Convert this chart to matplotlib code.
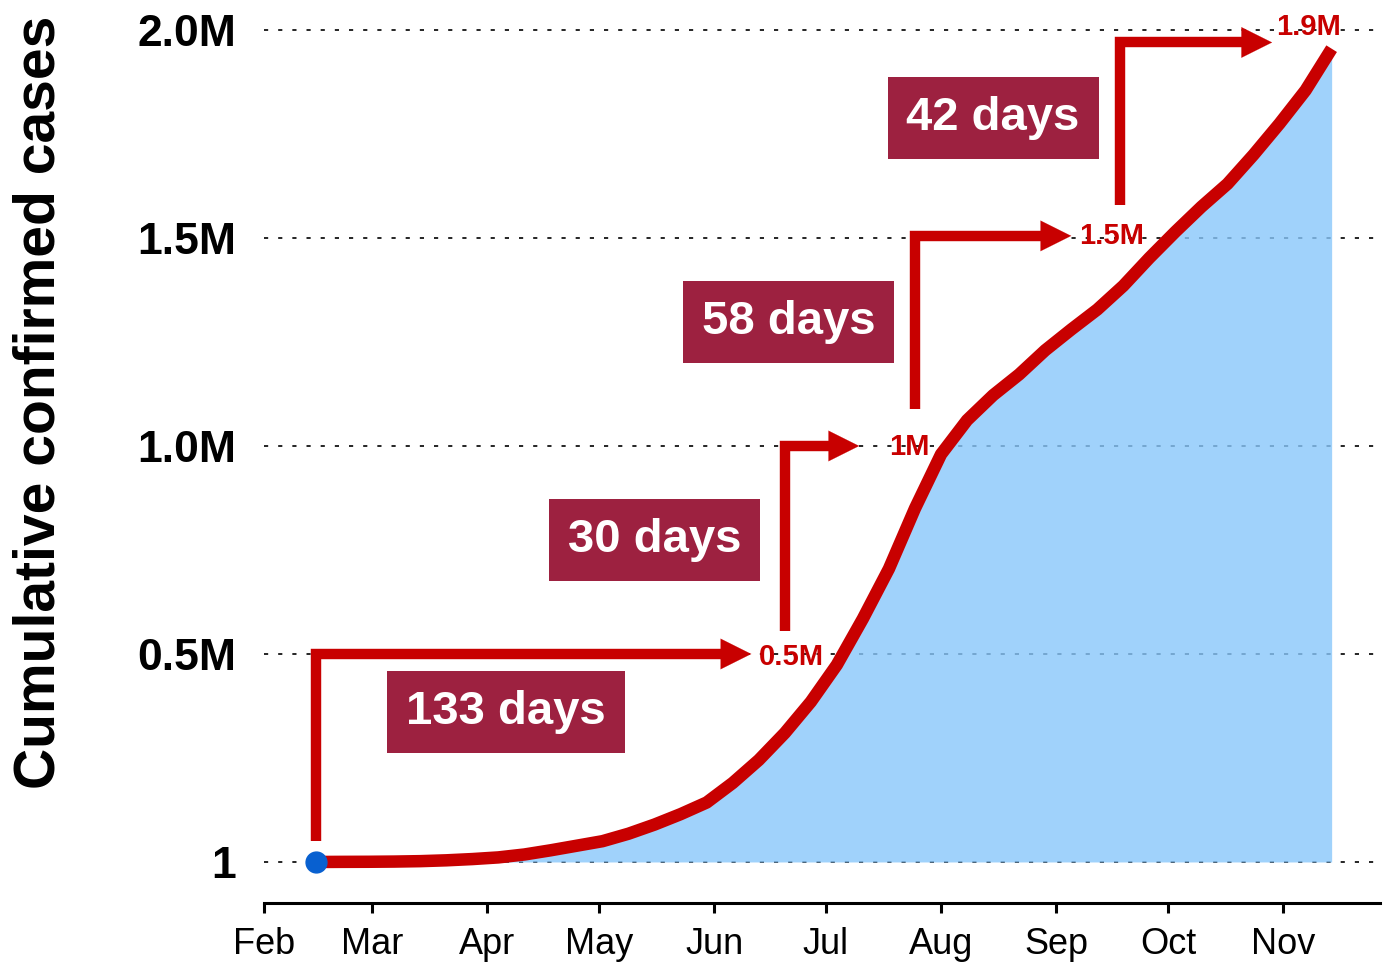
import numpy as np
import matplotlib
matplotlib.use("Agg")
import matplotlib.pyplot as plt
import matplotlib.dates as mdates

# weekly readings of the cumulative curve, from Feb 15 2020
start_date = np.datetime64("2020-02-15")
cases_m = [0.0, 0.0003, 0.0005, 0.001, 0.002, 0.004, 0.007, 0.011, 0.018, 0.028,
           0.039, 0.050, 0.068, 0.090, 0.115, 0.143, 0.190, 0.245, 0.310, 0.385,
           0.474, 0.585, 0.705, 0.850, 0.980, 1.062, 1.122, 1.172, 1.230, 1.280,
           1.328, 1.385, 1.452, 1.515, 1.575, 1.630, 1.700, 1.775, 1.855, 1.955]
dates = start_date + np.arange(len(cases_m)) * 7
cases = np.array(cases_m) * 1e6

ytick_values = [0, 0.5e6, 1.0e6, 1.5e6, 2.0e6]
ytick_labels = ["1", "0.5M", "1.0M", "1.5M", "2.0M"]

# milestone arrows: vertical start date, bottom level, top level, arrow tip date
arrow_x = ["2020-02-15", "2020-06-20", "2020-07-25", "2020-09-18"]
arrow_y0 = [0.05e6, 0.555e6, 1.09e6, 1.58e6]
arrow_y1 = [0.5e6, 1.0e6, 1.505e6, 1.97e6]
arrow_tip = ["2020-06-11", "2020-07-10", "2020-09-05", "2020-10-29"]
milestone_labels = ["0.5M", "1M", "1.5M", "1.9M"]
milestone_label_x = ["2020-06-13", "2020-07-18", "2020-09-07", "2020-10-30"]
milestone_label_y = [0.493e6, 0.998e6, 1.505e6, 2.007e6]

# day-count boxes
gap_labels = ["133 days", "30 days", "58 days", "42 days"]
gap_x = ["2020-04-06", "2020-05-16", "2020-06-21", "2020-08-15"]
gap_y = [0.361e6, 0.774e6, 1.298e6, 1.788e6]

red = "#c80000"
box_red = "#9d2140"

fig = plt.figure(figsize=(13.85, 9.63), dpi=100)
ax = fig.add_axes([264 / 1385, 60 / 963, (1380 - 264) / 1385, (903 - 10) / 963])

ax.set_xlim(np.datetime64("2020-02-01"), np.datetime64("2020-11-27"))
ax.set_ylim(-0.0986e6, 2.048e6)

for v in ytick_values:
    ax.axhline(v, color="black", lw=1.2, ls=(0, (2.5, 6)), zorder=1)

ax.fill_between(dates, 0, cases, color="#89c7fb", alpha=0.8, lw=0, zorder=2)
ax.plot(dates, cases, color=red, lw=9, solid_capstyle="butt",
        solid_joinstyle="round", zorder=4)
ax.plot(dates[0], cases[0], "o", color="#0860d0", ms=15, zorder=6)

for i in range(len(arrow_x)):
    x0 = np.datetime64(arrow_x[i])
    tip = np.datetime64(arrow_tip[i])
    ax.plot([x0, x0, tip - 6], [arrow_y0[i], arrow_y1[i], arrow_y1[i]],
            color=red, lw=7.5, solid_joinstyle="miter", solid_capstyle="butt", zorder=5)
    ax.annotate("", xy=(tip, arrow_y1[i]), xytext=(tip - 9, arrow_y1[i]),
                arrowprops=dict(arrowstyle="-|>,head_length=1.1,head_width=0.55",
                                mutation_scale=20, color=red, lw=0.1,
                                shrinkA=0, shrinkB=0),
                zorder=5)
    ax.text(np.datetime64(milestone_label_x[i]), milestone_label_y[i], milestone_labels[i],
            color=red, fontsize=21, fontweight="bold", ha="left", va="center",
            family="Liberation Sans", zorder=5)

for i in range(len(gap_labels)):
    ax.text(np.datetime64(gap_x[i]), gap_y[i], gap_labels[i], color="white",
            fontsize=34, fontweight="bold", ha="center", va="center",
            family="Liberation Sans", zorder=7,
            bbox=dict(boxstyle="square,pad=0.4", facecolor=box_red, edgecolor="none"))

ax.set_yticks(ytick_values)
ax.set_yticklabels(ytick_labels, fontsize=32, fontweight="bold", family="Liberation Sans")
ax.tick_params(axis="y", length=0, pad=20)

ax.xaxis.set_major_locator(mdates.MonthLocator())
ax.xaxis.set_major_formatter(mdates.DateFormatter("%b"))
ax.tick_params(axis="x", length=7, width=2.2, direction="out", pad=10, labelsize=26)
for lab in ax.get_xticklabels():
    lab.set_family("Liberation Sans")

for s in ["left", "right", "top"]:
    ax.spines[s].set_visible(False)
ax.spines["bottom"].set_linewidth(2.2)

fig.text(40 / 1385, 1 - 402 / 963, "Cumulative confirmed cases", rotation=90,
         ha="center", va="center", fontsize=41, fontweight="bold",
         family="Liberation Sans")

fig.savefig("out.png", dpi=100)
